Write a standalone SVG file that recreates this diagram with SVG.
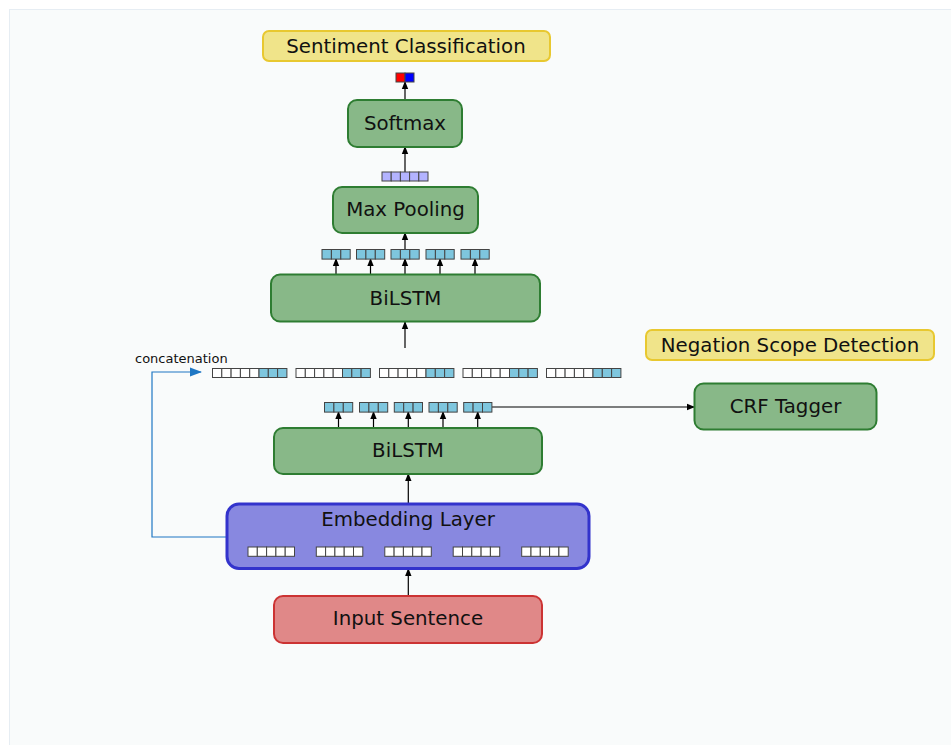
<svg xmlns="http://www.w3.org/2000/svg" xmlns:xlink="http://www.w3.org/1999/xlink" width="951" height="745" viewBox="0 0 951 745">
<style>
text{font-family:"DejaVu Sans","Liberation Sans",sans-serif;fill:#111;}
.lbl{font-size:19.8px;text-anchor:middle;}
.green{fill:#88b888;stroke:#2e7d32;stroke-width:2;}
.yellow{fill:#f0e48a;stroke:#e8c830;stroke-width:2;}
.emb{fill:#8888e0;stroke:#3333cc;stroke-width:3;}
.inp{fill:#e08888;stroke:#cc3333;stroke-width:2;}
.c{stroke:#444;stroke-width:1;}
.w{fill:#ffffff;}
.cy{fill:#7ec6de;}
.pu{fill:#b3b3ff;}
.arr{stroke:#000;stroke-width:1.2;fill:none;marker-end:url(#ah);}
</style>
<defs>
<marker id="ah" markerUnits="userSpaceOnUse" markerWidth="8" markerHeight="8" viewBox="0 0 8 8" refX="7" refY="4" orient="auto">
<path d="M0,0.8 L8,4 L0,7.2 Z" fill="#000"/>
</marker>
<marker id="ahb" markerUnits="userSpaceOnUse" markerWidth="12" markerHeight="10" viewBox="0 0 12 10" refX="11" refY="5" orient="auto">
<path d="M0,0.5 L12,5 L0,9.5 Z" fill="#1f77c4"/>
</marker>
<g id="v3" class="c">
<rect class="cy" x="0" y="0" width="9.4" height="9.6"/>
<rect class="cy" x="9.4" y="0" width="9.4" height="9.6"/>
<rect class="cy" x="18.8" y="0" width="9.4" height="9.6"/>
</g>
<g id="v8" class="c">
<rect class="w" x="0" y="0" width="9.3" height="9"/>
<rect class="w" x="9.3" y="0" width="9.3" height="9"/>
<rect class="w" x="18.6" y="0" width="9.3" height="9"/>
<rect class="w" x="27.9" y="0" width="9.3" height="9"/>
<rect class="w" x="37.2" y="0" width="9.3" height="9"/>
<rect class="cy" x="46.5" y="0" width="9.3" height="9"/>
<rect class="cy" x="55.8" y="0" width="9.3" height="9"/>
<rect class="cy" x="65.1" y="0" width="9.3" height="9"/>
</g>
<g id="v5" class="c">
<rect class="w" x="0" y="0" width="9.3" height="9.3"/>
<rect class="w" x="9.3" y="0" width="9.3" height="9.3"/>
<rect class="w" x="18.6" y="0" width="9.3" height="9.3"/>
<rect class="w" x="27.9" y="0" width="9.3" height="9.3"/>
<rect class="w" x="37.2" y="0" width="9.3" height="9.3"/>
</g>
</defs>
<rect x="0" y="0" width="951" height="745" fill="#ffffff"/>
<rect x="9.5" y="9.5" width="950" height="745" fill="#f9fbfb" stroke="#e6edf3" stroke-width="1"/>

<g id="connectors">
<line class="arr" x1="405" y1="100" x2="405" y2="82"/>
<line class="arr" x1="405" y1="172" x2="405" y2="147"/>
<line class="arr" x1="405" y1="249" x2="405" y2="233"/>
<line class="arr" x1="336" y1="274" x2="336" y2="259"/>
<line class="arr" x1="370.5" y1="274" x2="370.5" y2="259"/>
<line class="arr" x1="405" y1="274" x2="405" y2="259"/>
<line class="arr" x1="440" y1="274" x2="440" y2="259"/>
<line class="arr" x1="475" y1="274" x2="475" y2="259"/>
<line class="arr" x1="405" y1="348" x2="405" y2="322"/>
<line class="arr" x1="338.5" y1="428" x2="338.5" y2="412"/>
<line class="arr" x1="373.5" y1="428" x2="373.5" y2="412"/>
<line class="arr" x1="408.3" y1="428" x2="408.3" y2="412"/>
<line class="arr" x1="443" y1="428" x2="443" y2="412"/>
<line class="arr" x1="477.7" y1="428" x2="477.7" y2="412"/>
<line class="arr" x1="492" y1="407" x2="694" y2="407"/>
<line class="arr" x1="408.3" y1="503" x2="408.3" y2="474"/>
<line class="arr" x1="408.3" y1="595" x2="408.3" y2="569"/>
<polyline points="226,537 152,537 152,372 201,372" fill="none" stroke="#1f77c4" stroke-width="1.2" marker-end="url(#ahb)"/>
</g>

<g id="sentiment-classification">
<rect class="yellow" x="263" y="31" width="287" height="30" rx="6"/>
<text class="lbl" x="406" y="52.5">Sentiment Classification</text>
</g>

<g id="output-vector" class="c">
<rect x="396" y="73" width="9" height="9" fill="#ff0000"/>
<rect x="405" y="73" width="9" height="9" fill="#0000ff"/>
</g>

<g id="softmax">
<rect class="green" x="348" y="100" width="114" height="47" rx="9"/>
<text class="lbl" x="405" y="130">Softmax</text>
</g>

<g id="pooled-vector" class="c">
<rect class="pu" x="382" y="172" width="9.2" height="9"/>
<rect class="pu" x="391.2" y="172" width="9.2" height="9"/>
<rect class="pu" x="400.4" y="172" width="9.2" height="9"/>
<rect class="pu" x="409.6" y="172" width="9.2" height="9"/>
<rect class="pu" x="418.8" y="172" width="9.2" height="9"/>
</g>

<g id="max-pooling">
<rect class="green" x="333" y="187" width="145" height="46" rx="9"/>
<text class="lbl" x="405.5" y="215.5">Max Pooling</text>
</g>

<g id="bilstm2-outputs">
<use xlink:href="#v3" x="322" y="249.5"/>
<use xlink:href="#v3" x="356.5" y="249.5"/>
<use xlink:href="#v3" x="391" y="249.5"/>
<use xlink:href="#v3" x="426" y="249.5"/>
<use xlink:href="#v3" x="461" y="249.5"/>
</g>

<g id="bilstm-top">
<rect class="green" x="271" y="274.5" width="269" height="47" rx="9"/>
<text class="lbl" x="405.5" y="304.5">BiLSTM</text>
</g>

<g id="concatenation">
<text x="135" y="362.5" style="font-size:13px">concatenation</text>
<use xlink:href="#v8" x="212.5" y="368.5"/>
<use xlink:href="#v8" x="296" y="368.5"/>
<use xlink:href="#v8" x="379.5" y="368.5"/>
<use xlink:href="#v8" x="463" y="368.5"/>
<use xlink:href="#v8" x="546.5" y="368.5"/>
</g>

<g id="negation-scope-detection">
<rect class="yellow" x="646" y="330" width="288" height="30" rx="6"/>
<text class="lbl" x="790" y="351.5">Negation Scope Detection</text>
</g>

<g id="crf-tagger">
<rect class="green" x="694.5" y="383.5" width="182" height="46" rx="9"/>
<text class="lbl" x="785.5" y="412.5">CRF Tagger</text>
</g>

<g id="bilstm1-outputs">
<use xlink:href="#v3" x="324.5" y="402.5"/>
<use xlink:href="#v3" x="359.5" y="402.5"/>
<use xlink:href="#v3" x="394.3" y="402.5"/>
<use xlink:href="#v3" x="429" y="402.5"/>
<use xlink:href="#v3" x="463.7" y="402.5"/>
</g>

<g id="bilstm-bottom">
<rect class="green" x="274" y="428" width="268" height="46" rx="9"/>
<text class="lbl" x="408" y="456.5">BiLSTM</text>
</g>

<g id="embedding-layer">
<rect class="emb" x="227" y="504" width="362" height="64.5" rx="12"/>
<text class="lbl" x="408" y="525.5">Embedding Layer</text>
<use xlink:href="#v5" x="248" y="547"/>
<use xlink:href="#v5" x="316.3" y="547"/>
<use xlink:href="#v5" x="384.8" y="547"/>
<use xlink:href="#v5" x="453.2" y="547"/>
<use xlink:href="#v5" x="521.7" y="547"/>
</g>

<g id="input-sentence">
<rect class="inp" x="274" y="596" width="268" height="47" rx="9"/>
<text class="lbl" x="408" y="625">Input Sentence</text>
</g>
</svg>
